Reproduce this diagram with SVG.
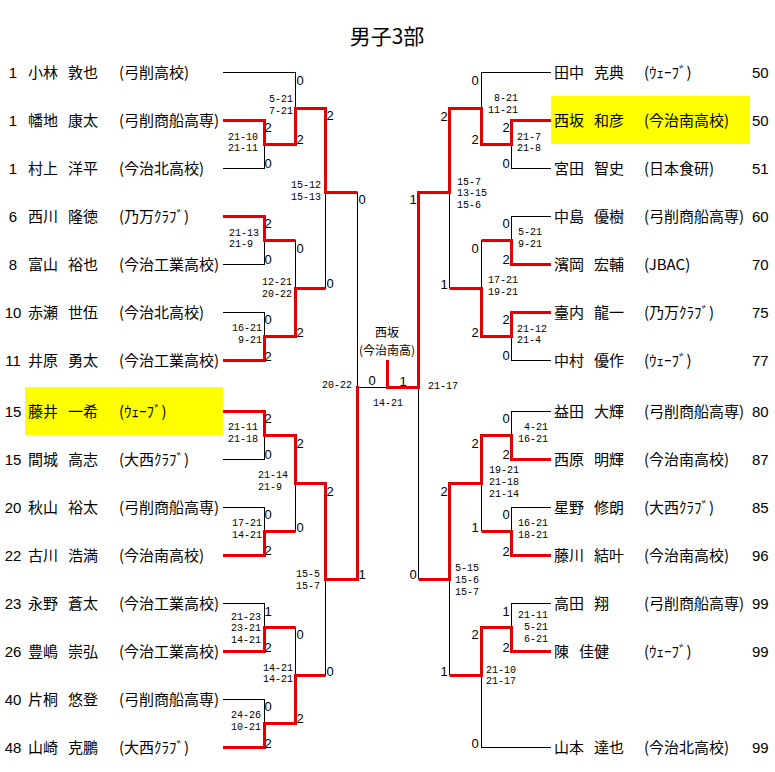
<svg xmlns="http://www.w3.org/2000/svg" width="775" height="772" viewBox="0 0 775 772">
<style>
.n{font-family:"Noto Sans CJK JP","Noto Sans CJK SC",sans-serif;font-size:15px;fill:#000}
.d{font-family:"Liberation Sans",Arial,sans-serif;font-size:15px;fill:#000}
.dm{font-family:"Liberation Sans",Arial,sans-serif;font-size:15px;fill:#000;text-anchor:middle}
.s{font-family:"Liberation Mono","DejaVu Sans Mono",monospace;font-size:10px;fill:#000}
.g{font-family:"Liberation Sans",Arial,sans-serif;font-size:13px;fill:#000;text-anchor:middle}
.t{font-family:"Noto Sans CJK JP",sans-serif;font-size:21px;fill:#000;text-anchor:middle}
.w{font-family:"Noto Sans CJK JP",sans-serif;font-size:12px;fill:#000;text-anchor:middle}
.k{fill:none;stroke:#000;stroke-width:1;shape-rendering:crispEdges}
.r{fill:none;stroke:#e00000;stroke-width:3;stroke-linejoin:miter;stroke-linecap:butt}
.hl{fill:#ffff00}
</style>
<rect width="775" height="772" fill="#fff"/>
<text class="t" x="387" y="44">男子3部</text>
<rect class="hl" x="25" y="387" width="198" height="48"/>
<rect class="hl" x="551" y="96" width="199" height="48"/>

<g id="connectors">
<path class="k" d="M223 72.5H295.5V144 M223 120.5H264.5V168.5H223 M264.5 144.5H295.5 M295.5 108.5H325.5V288 M295.5 288.5H325.5 M325.5 192.5H357.5V579 M223 216.5H264.5V264.5H223 M264.5 240.5H295.5V336 M223 312.5H264.5V360.5H223 M264.5 336.5H295.5 M223 411.5H264.5V459.5H223 M264.5 435.5H295.5V531 M223 507.5H264.5V555.5H223 M264.5 531.5H295.5 M295.5 483.5H325.5V675 M325.5 579.5H357.5 M223 603.5H264.5V651.5H223 M264.5 627.5H295.5V723 M223 699.5H264.5V747.5H223 M264.5 723.5H295.5 M295.5 675.5H325.5 M357.5 387.5H418.5"/>
<path class="k" d="M551 72.5H481.5V144 M551 120.5H511.5V168.5H551 M511.5 144.5H481.5 M481.5 108.5H449.5V288 M449.5 192.5H418.5V579 M551 216.5H511.5V264.5H551 M511.5 240.5H481.5V336 M551 312.5H511.5V360.5H551 M511.5 336.5H481.5 M481.5 288.5H449.5 M551 411.5H511.5V459.5H551 M511.5 435.5H481.5V531 M551 507.5H511.5V555.5H551 M511.5 531.5H481.5 M481.5 483.5H449.5V675 M449.5 579.5H418.5 M551 603.5H511.5V651.5H551 M511.5 627.5H481.5V747.5H551 M481.5 675.5H449.5"/>
<path class="r" d="M223 120.5H264.5V144.5H295.5V108.5H325.5V192.5H357.5"/>
<path class="r" d="M223 216.5H264.5V240.5H295.5"/>
<path class="r" d="M223 360.5H264.5V336.5H295.5V288.5H325.5"/>
<path class="r" d="M223 411.5H264.5V435.5H295.5V483.5H325.5V579.5H357.5V386"/>
<path class="r" d="M223 555.5H264.5V531.5H295.5"/>
<path class="r" d="M223 651.5H264.5V627.5H295.5"/>
<path class="r" d="M223 747.5H264.5V723.5H295.5V675.5H325.5"/>
<path class="r" d="M551 120.5H511.5V144.5H481.5V108.5H449.5V192.5H418.5V387.5H387.5V360"/>
<path class="r" d="M551 264.5H511.5V240.5H481.5"/>
<path class="r" d="M551 312.5H511.5V336.5H481.5V288.5H449.5"/>
<path class="r" d="M551 459.5H511.5V435.5H481.5V483.5H449.5V579.5H418.5"/>
<path class="r" d="M551 555.5H511.5V531.5H481.5"/>
<path class="r" d="M551 651.5H511.5V627.5H481.5V675.5H449.5"/>
</g>

<g id="scores-left">
<text class="g" x="268" y="131.5">2</text><text class="g" x="268" y="167.5">0</text>
<text class="g" x="268" y="227.5">2</text><text class="g" x="268" y="263.5">0</text>
<text class="g" x="268" y="323.5">0</text><text class="g" x="268" y="360.5">2</text>
<text class="g" x="268" y="422.5">2</text><text class="g" x="268" y="458.5">0</text>
<text class="g" x="268" y="518.5">0</text><text class="g" x="268" y="554.5">2</text>
<text class="g" x="268" y="615.5">1</text><text class="g" x="268" y="651.5">2</text>
<text class="g" x="268" y="710.5">0</text><text class="g" x="268" y="747.5">2</text>
<text class="g" x="300" y="84.5">0</text><text class="g" x="300" y="143.5">2</text>
<text class="g" x="300" y="252.5">0</text><text class="g" x="300" y="336.5">2</text>
<text class="g" x="300" y="447.5">2</text><text class="g" x="300" y="531.5">0</text>
<text class="g" x="300" y="638.5">0</text><text class="g" x="300" y="722.5">2</text>
<text class="g" x="330" y="119.5">2</text><text class="g" x="330" y="287.5">0</text>
<text class="g" x="330" y="495.5">2</text><text class="g" x="330" y="675.5">0</text>
<text class="g" x="362" y="203.5">0</text><text class="g" x="362" y="578.5">1</text>
<text class="s" x="228" y="139.5">21-10</text><text class="s" x="228" y="151">21-11</text>
<text class="s" x="229" y="235.5">21-13</text><text class="s" x="229" y="247">21-9</text>
<text class="s" x="232" y="330.5">16-21</text><text class="s" x="238" y="342.5">9-21</text>
<text class="s" x="228" y="429.5">21-11</text><text class="s" x="228" y="441.5">21-18</text>
<text class="s" x="232" y="525.5">17-21</text><text class="s" x="232" y="537.5">14-21</text>
<text class="s" x="231" y="619.5">21-23</text><text class="s" x="231" y="631">23-21</text><text class="s" x="231" y="642.5">14-21</text>
<text class="s" x="231" y="717.5">24-26</text><text class="s" x="231" y="730">10-21</text>
<text class="s" x="269" y="101.5">5-21</text><text class="s" x="269" y="113.5">7-21</text>
<text class="s" x="262" y="284.5">12-21</text><text class="s" x="262" y="296.5">20-22</text>
<text class="s" x="258" y="477.5">21-14</text><text class="s" x="258" y="489.5">21-9</text>
<text class="s" x="263" y="670.5">14-21</text><text class="s" x="263" y="681.5">14-21</text>
<text class="s" x="291" y="187.5">15-12</text><text class="s" x="291" y="199.5">15-13</text>
<text class="s" x="296" y="576.5">15-5</text><text class="s" x="296" y="588.5">15-7</text>
<text class="s" x="322" y="387.5">20-22</text>
</g>

<g id="final">
<text class="w" x="387" y="337">西坂</text>
<text class="w" x="387" y="355">(今治南高)</text>
<text class="g" x="372" y="384.5">0</text>
<text class="g" x="403" y="385.5">1</text>
<text class="s" x="373" y="405.5">14-21</text>
</g>

<g id="scores-right">
<text class="g" x="506" y="131.5">2</text><text class="g" x="506" y="167.5">0</text>
<text class="g" x="506" y="227.5">0</text><text class="g" x="506" y="263.5">2</text>
<text class="g" x="506" y="323.5">2</text><text class="g" x="506" y="359.5">0</text>
<text class="g" x="506" y="422.5">0</text><text class="g" x="506" y="458.5">2</text>
<text class="g" x="506" y="518.5">0</text><text class="g" x="506" y="555.5">2</text>
<text class="g" x="506" y="615.5">1</text><text class="g" x="506" y="651.5">2</text>
<text class="g" x="475" y="84.5">0</text><text class="g" x="475" y="143.5">2</text>
<text class="g" x="475" y="252.5">0</text><text class="g" x="475" y="336.5">2</text>
<text class="g" x="475" y="447.5">2</text><text class="g" x="475" y="531.5">1</text>
<text class="g" x="475" y="638.5">2</text><text class="g" x="475" y="747.5">0</text>
<text class="g" x="444" y="120.5">2</text><text class="g" x="444" y="288.5">1</text>
<text class="g" x="444" y="495.5">2</text><text class="g" x="444" y="675.5">1</text>
<text class="g" x="413" y="203.5">1</text><text class="g" x="413" y="578.5">0</text>
<text class="s" x="494" y="101">8-21</text><text class="s" x="488" y="112.5">11-21</text>
<text class="s" x="517" y="139.5">21-7</text><text class="s" x="517" y="151">21-8</text>
<text class="s" x="457" y="184.5">15-7</text><text class="s" x="457" y="196">13-15</text><text class="s" x="457" y="207.5">15-6</text>
<text class="s" x="518" y="234.5">5-21</text><text class="s" x="518" y="246.5">9-21</text>
<text class="s" x="488" y="282.5">17-21</text><text class="s" x="488" y="295">19-21</text>
<text class="s" x="517" y="331.5">21-12</text><text class="s" x="517" y="342.5">21-4</text>
<text class="s" x="428" y="388.5">21-17</text>
<text class="s" x="524" y="429.5">4-21</text><text class="s" x="518" y="441.5">16-21</text>
<text class="s" x="489" y="472.5">19-21</text><text class="s" x="489" y="484.5">21-18</text><text class="s" x="489" y="496.5">21-14</text>
<text class="s" x="518" y="525.5">16-21</text><text class="s" x="518" y="537.5">18-21</text>
<text class="s" x="455" y="570.5">5-15</text><text class="s" x="455" y="582.5">15-6</text><text class="s" x="455" y="595">15-7</text>
<text class="s" x="518" y="617.5">21-11</text><text class="s" x="524" y="630">5-21</text><text class="s" x="524" y="641.5">6-21</text>
<text class="s" x="486" y="672.5">21-10</text><text class="s" x="486" y="684">21-17</text>
</g>

<g id="p-kobayashi"><text class="dm" x="13" y="77.5">1</text><text class="n" x="28" y="77.5">小林</text><text class="n" x="68" y="77.5">敦也</text><text class="n" x="119" y="77.5">(弓削高校)</text></g>
<g id="p-hatachi"><text class="dm" x="13" y="125.5">1</text><text class="n" x="28" y="125.5">幡地</text><text class="n" x="68" y="125.5">康太</text><text class="n" x="119" y="125.5">(弓削商船高専)</text></g>
<g id="p-murakami"><text class="dm" x="13" y="173.5">1</text><text class="n" x="28" y="173.5">村上</text><text class="n" x="68" y="173.5">洋平</text><text class="n" x="119" y="173.5">(今治北高校)</text></g>
<g id="p-nishikawa"><text class="dm" x="13" y="221.5">6</text><text class="n" x="28" y="221.5">西川</text><text class="n" x="68" y="221.5">隆徳</text><text class="n" x="119" y="221.5">(乃万ｸﾗﾌﾞ)</text></g>
<g id="p-tomiyama"><text class="dm" x="13" y="269.5">8</text><text class="n" x="28" y="269.5">富山</text><text class="n" x="68" y="269.5">裕也</text><text class="n" x="119" y="269.5">(今治工業高校)</text></g>
<g id="p-akase"><text class="dm" x="13" y="317.5">10</text><text class="n" x="28" y="317.5">赤瀬</text><text class="n" x="68" y="317.5">世伍</text><text class="n" x="119" y="317.5">(今治北高校)</text></g>
<g id="p-ihara"><text class="dm" x="13" y="365.5">11</text><text class="n" x="28" y="365.5">井原</text><text class="n" x="68" y="365.5">勇太</text><text class="n" x="119" y="365.5">(今治工業高校)</text></g>
<g id="p-fujii"><text class="dm" x="13" y="416.5">15</text><text class="n" x="28" y="416.5">藤井</text><text class="n" x="68" y="416.5">一希</text><text class="n" x="119" y="416.5">(ｳｪｰﾌﾞ)</text></g>
<g id="p-majiro"><text class="dm" x="13" y="464.5">15</text><text class="n" x="28" y="464.5">間城</text><text class="n" x="68" y="464.5">高志</text><text class="n" x="119" y="464.5">(大西ｸﾗﾌﾞ)</text></g>
<g id="p-akiyama"><text class="dm" x="13" y="512.5">20</text><text class="n" x="28" y="512.5">秋山</text><text class="n" x="68" y="512.5">裕太</text><text class="n" x="119" y="512.5">(弓削商船高専)</text></g>
<g id="p-furukawa"><text class="dm" x="13" y="560.5">22</text><text class="n" x="28" y="560.5">古川</text><text class="n" x="68" y="560.5">浩満</text><text class="n" x="119" y="560.5">(今治南高校)</text></g>
<g id="p-nagano"><text class="dm" x="13" y="608.5">23</text><text class="n" x="28" y="608.5">永野</text><text class="n" x="68" y="608.5">蒼太</text><text class="n" x="119" y="608.5">(今治工業高校)</text></g>
<g id="p-toyoshima"><text class="dm" x="13" y="656.5">26</text><text class="n" x="28" y="656.5">豊嶋</text><text class="n" x="68" y="656.5">崇弘</text><text class="n" x="119" y="656.5">(今治工業高校)</text></g>
<g id="p-katagiri"><text class="dm" x="13" y="704.5">40</text><text class="n" x="28" y="704.5">片桐</text><text class="n" x="68" y="704.5">悠登</text><text class="n" x="119" y="704.5">(弓削商船高専)</text></g>
<g id="p-yamasaki"><text class="dm" x="13" y="752.5">48</text><text class="n" x="28" y="752.5">山崎</text><text class="n" x="68" y="752.5">克鵬</text><text class="n" x="119" y="752.5">(大西ｸﾗﾌﾞ)</text></g>

<g id="p-tanaka"><text class="n" x="554" y="77.5">田中</text><text class="n" x="594" y="77.5">克典</text><text class="n" x="644" y="77.5">(ｳｪｰﾌﾞ)</text><text class="d" x="752" y="77.5">50</text></g>
<g id="p-nishizaka"><text class="n" x="554" y="125.5">西坂</text><text class="n" x="594" y="125.5">和彦</text><text class="n" x="644" y="125.5">(今治南高校)</text><text class="d" x="752" y="125.5">50</text></g>
<g id="p-miyata"><text class="n" x="554" y="173.5">宮田</text><text class="n" x="594" y="173.5">智史</text><text class="n" x="644" y="173.5">(日本食研)</text><text class="d" x="752" y="173.5">51</text></g>
<g id="p-nakajima"><text class="n" x="554" y="221.5">中島</text><text class="n" x="594" y="221.5">優樹</text><text class="n" x="644" y="221.5">(弓削商船高専)</text><text class="d" x="752" y="221.5">60</text></g>
<g id="p-hamaoka"><text class="n" x="554" y="269.5">濱岡</text><text class="n" x="594" y="269.5">宏輔</text><text class="n" x="644" y="269.5">(JBAC)</text><text class="d" x="752" y="269.5">70</text></g>
<g id="p-dainai"><text class="n" x="554" y="317.5">臺内</text><text class="n" x="594" y="317.5">龍一</text><text class="n" x="644" y="317.5">(乃万ｸﾗﾌﾞ)</text><text class="d" x="752" y="317.5">75</text></g>
<g id="p-nakamura"><text class="n" x="554" y="365.5">中村</text><text class="n" x="594" y="365.5">優作</text><text class="n" x="644" y="365.5">(ｳｪｰﾌﾞ)</text><text class="d" x="752" y="365.5">77</text></g>
<g id="p-masuda"><text class="n" x="554" y="416.5">益田</text><text class="n" x="594" y="416.5">大輝</text><text class="n" x="644" y="416.5">(弓削商船高専)</text><text class="d" x="752" y="416.5">80</text></g>
<g id="p-nishihara"><text class="n" x="554" y="464.5">西原</text><text class="n" x="594" y="464.5">明輝</text><text class="n" x="644" y="464.5">(今治南高校)</text><text class="d" x="752" y="464.5">87</text></g>
<g id="p-hoshino"><text class="n" x="554" y="512.5">星野</text><text class="n" x="594" y="512.5">修朗</text><text class="n" x="644" y="512.5">(大西ｸﾗﾌﾞ)</text><text class="d" x="752" y="512.5">85</text></g>
<g id="p-fujikawa"><text class="n" x="554" y="560.5">藤川</text><text class="n" x="594" y="560.5">結叶</text><text class="n" x="644" y="560.5">(今治南高校)</text><text class="d" x="752" y="560.5">96</text></g>
<g id="p-takada"><text class="n" x="554" y="608.5">高田</text><text class="n" x="594" y="608.5">翔</text><text class="n" x="644" y="608.5">(弓削商船高専)</text><text class="d" x="752" y="608.5">99</text></g>
<g id="p-chin"><text class="n" x="554" y="656.5">陳</text><text class="n" x="579" y="656.5">佳健</text><text class="n" x="644" y="656.5">(ｳｪｰﾌﾞ)</text><text class="d" x="752" y="656.5">99</text></g>
<g id="p-yamamoto"><text class="n" x="554" y="752.5">山本</text><text class="n" x="594" y="752.5">達也</text><text class="n" x="644" y="752.5">(今治北高校)</text><text class="d" x="752" y="752.5">99</text></g>
</svg>
